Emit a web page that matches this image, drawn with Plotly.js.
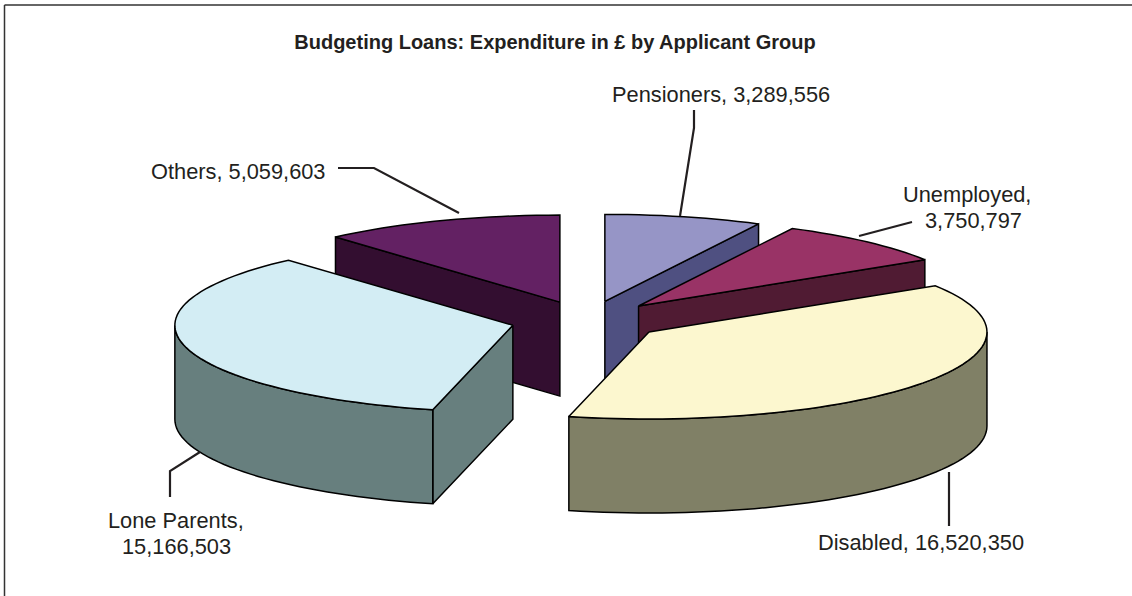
<!DOCTYPE html>
<html><head><meta charset="utf-8">
<script src="https://cdn.plot.ly/plotly-3.0.1.min.js"></script>
<style>html,body{margin:0;padding:0;background:#fff}#c{width:1132px;height:596px}</style>
</head><body><div id="c"></div>
<script>
var categories = ['Pensioners', 'Unemployed', 'Disabled', 'Lone Parents', 'Others'];
var values = [3289556, 3750797, 16520350, 15166503, 5059603];
var topColors = ['#9695c6', '#993366', '#fcf7cf', '#d3edf4', '#632163'];
var sideColors = ['#4f5081', '#501b33', '#808066', '#677f7e', '#330e30'];
var drawOrder = [4, 0, 1, 3, 2];

// pie projection, in pixels of the page-sized axes
var CX = 587, CY = 320.5, RX = 338, RY = 87, DEPTH = 94, EXPLODE = 0.226;

var total = values.reduce(function (a, b) { return a + b; }, 0);
function rad(d) { return d * Math.PI / 180; }
function pt(c, deg, dy) {
  return [c[0] + RX * Math.sin(rad(deg)), c[1] - RY * Math.cos(rad(deg)) + (dy || 0)];
}
function arc(c, a0, a1, dy) {
  var out = [], n = Math.max(2, Math.ceil(Math.abs(a1 - a0) / 2));
  for (var i = 0; i <= n; i++) out.push(pt(c, a0 + (a1 - a0) * i / n, dy));
  return out;
}
function poly(points, fill, name) {
  var closed = points.concat([points[0]]);
  return {
    type: 'scatter', mode: 'lines', name: name, showlegend: false, hoverinfo: 'skip',
    x: closed.map(function (p) { return p[0]; }),
    y: closed.map(function (p) { return p[1]; }),
    fill: 'toself', fillcolor: fill,
    line: { color: '#000000', width: 1.5, simplify: false }
  };
}

var starts = [], acc = 0;
values.forEach(function (v) { starts.push(acc / total * 360); acc += v; });

var traces = [];
drawOrder.forEach(function (i) {
  var a0 = starts[i], a1 = a0 + values[i] / total * 360, mid = (a0 + a1) / 2;
  var c = [CX + EXPLODE * RX * Math.sin(rad(mid)), CY - EXPLODE * RY * Math.cos(rad(mid))];
  var name = categories[i];
  var d = function (p) { return [p[0], p[1] + DEPTH]; };
  [[a0, Math.sin(rad(a0)) < -1e-6], [a1, Math.sin(rad(a1)) > 1e-6]].forEach(function (e) {
    if (e[1]) {
      var q = pt(c, e[0]);
      traces.push(poly([c, q, d(q), d(c)], sideColors[i], name + ' cut face'));
    }
  });
  var w0 = Math.max(a0, 90), w1 = Math.min(a1, 270);
  if (w1 > w0) {
    traces.push(poly(arc(c, w0, w1).concat(arc(c, w1, w0, DEPTH)), sideColors[i], name + ' wall'));
  }
  traces.push(poly([c].concat(arc(c, a0, a1)), topColors[i], name));
});

var leaders = [
  [[694, 110], [694, 128], [680, 216]],
  [[912, 222], [859, 236]],
  [[949, 472], [949, 526]],
  [[170, 497], [170, 471], [200, 452]],
  [[338, 168], [374, 168], [459, 213]]
];
leaders.forEach(function (l, i) {
  traces.push({
    type: 'scatter', mode: 'lines', showlegend: false, hoverinfo: 'skip', name: categories[i] + ' leader',
    x: l.map(function (p) { return p[0]; }), y: l.map(function (p) { return p[1]; }),
    line: { color: '#231f20', width: 2.2 }
  });
});

function fmt(v) { return v.toLocaleString('en-GB'); }
var labelLines = [
  [categories[0] + ', ' + fmt(values[0]), 721, 94],
  [categories[1] + ',', 967, 194],
  [fmt(values[1]), 973, 220],
  [categories[2] + ', ' + fmt(values[2]), 921, 542],
  [categories[3] + ',', 176, 520],
  [fmt(values[3]), 176, 546],
  [categories[4] + ', ' + fmt(values[4]), 238, 171]
];
var annotations = labelLines.map(function (l) {
  return {
    text: l[0], x: l[1], y: l[2], xref: 'x', yref: 'y',
    showarrow: false, xanchor: 'center', yanchor: 'middle', align: 'center',
    font: { family: 'Liberation Sans, Arial, sans-serif', size: 21.8, color: '#231f20' }
  };
});

var hidden = { visible: false, fixedrange: true };
Plotly.newPlot('c', traces, {
  width: 1132, height: 596,
  margin: { l: 0, r: 0, t: 0, b: 0 },
  paper_bgcolor: '#ffffff', plot_bgcolor: '#ffffff',
  showlegend: false,
  title: {
    text: '<b>Budgeting Loans: Expenditure in £ by Applicant Group</b>',
    x: 555 / 1132, xanchor: 'center', y: 1 - 42 / 596, yanchor: 'middle',
    font: { family: 'Liberation Sans, Arial, sans-serif', size: 20, color: '#231f20' }
  },
  xaxis: Object.assign({ range: [0, 1132] }, hidden),
  yaxis: Object.assign({ range: [596, 0] }, hidden),
  annotations: annotations,
  shapes: [
    { type: 'line', xref: 'paper', yref: 'paper', x0: 4.5 / 1132, x1: 1, y0: 1 - 5 / 596, y1: 1 - 5 / 596, line: { color: '#333333', width: 1.5 } },
    { type: 'line', xref: 'paper', yref: 'paper', x0: 4.5 / 1132, x1: 4.5 / 1132, y0: 1 - 5 / 596, y1: 0, line: { color: '#333333', width: 1.5 } }
  ]
}, { displayModeBar: false, staticPlot: true });
</script></body></html>
